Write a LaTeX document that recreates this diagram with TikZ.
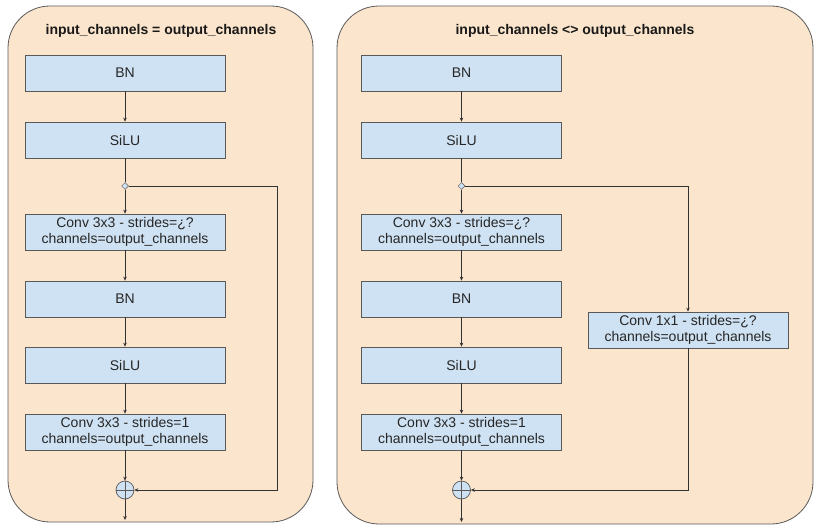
\documentclass[tikz,border=0pt]{standalone}
\usepackage{fontspec}
\setmainfont{Liberation Sans}
\usepackage{tikz}
\usetikzlibrary{arrows.meta, shapes.geometric, positioning}

\definecolor{panelpeach}{HTML}{FCE5CD}
\definecolor{blockblue}{HTML}{CFE2F3}
\definecolor{edgegray}{HTML}{595959}
\definecolor{linegray}{HTML}{333333}

\begin{document}
\begin{tikzpicture}[x=1pt, y=-1pt,
        panel/.style={draw=edgegray, fill=panelpeach, line width=0.8pt, rounded corners=42pt},
        title/.style={font=\fontsize{14}{16}\selectfont\bfseries, text=black!90},
        block/.style={rectangle, draw=edgegray, fill=blockblue, line width=0.7pt, minimum width=200pt, minimum height=36pt, inner sep=1pt, align=center, font=\fontsize{14}{16}\selectfont, text=black!85},
        split/.style={diamond, draw=edgegray, fill=blockblue, line width=0.5pt, minimum size=7pt, inner sep=0pt},
        sum/.style={circle, draw=edgegray, fill=blockblue, line width=0.7pt, minimum size=18pt, inner sep=0pt},
        flow/.style={draw=linegray, line width=0.7pt, -{Stealth[length=4pt, width=3.5pt]}}
    ]
        \useasboundingbox (0,0) rectangle (822,532);

        % Panels
        \draw[panel] (8,6) rectangle (313,522);
        \draw[panel] (337,6) rectangle (813,524);
        \node[title] (tl) at (161,31) {input\_channels = output\_channels};
        \node[title] (tr) at (575,31) {input\_channels <> output\_channels};

        % Left block
        \node[block] (bnLa) at (125,73) {BN};
        \node[block] (siluLa) at (125,140) {SiLU};
        \node[split] (jL) at (125,186) {};
        \node[block] (convLa) at (125,232) {Conv 3x3 - strides=¿?\\channels=output\_channels};
        \node[block] (bnLb) at (125,299) {BN};
        \node[block] (siluLb) at (125,365) {SiLU};
        \node[block] (convLb) at (125,432) {Conv 3x3 - strides=1\\channels=output\_channels};
        \node[sum] (sumL) at (125,490) {};
        \coordinate (outL) at (125,520);
        \coordinate (turnL) at (277,186);

        % Right block
        \node[block] (bnRa) at (461.5,73) {BN};
        \node[block] (siluRa) at (461.5,140) {SiLU};
        \node[split] (jR) at (461.5,186) {};
        \node[block] (convRa) at (461.5,232) {Conv 3x3 - strides=¿?\\channels=output\_channels};
        \node[block] (bnRb) at (461.5,299) {BN};
        \node[block] (siluRb) at (461.5,365) {SiLU};
        \node[block] (convRb) at (461.5,432) {Conv 3x3 - strides=1\\channels=output\_channels};
        \node[sum] (sumR) at (461.5,490) {};
        \node[block] (convRs) at (688,330) {Conv 1x1 - strides=¿?\\channels=output\_channels};
        \coordinate (outR) at (461.5,522);

        % Plus signs
        \draw[edgegray, line width=0.7pt] (sumL.north) -- (sumL.south) (sumL.west) -- (sumL.east);
        \draw[edgegray, line width=0.7pt] (sumR.north) -- (sumR.south) (sumR.west) -- (sumR.east);

        % Left connectors
        \draw[flow] (bnLa) -- (siluLa);
        \draw[draw=linegray, line width=0.7pt] (siluLa) -- (jL);
        \draw[flow] (jL) -- (convLa);
        \draw[flow] (convLa) -- (bnLb);
        \draw[flow] (bnLb) -- (siluLb);
        \draw[flow] (siluLb) -- (convLb);
        \draw[flow] (convLb) -- (sumL);
        \draw[flow] (sumL) -- (outL);
        \draw[flow] (jL) -- (turnL) |- (sumL);

        % Right connectors
        \draw[flow] (bnRa) -- (siluRa);
        \draw[draw=linegray, line width=0.7pt] (siluRa) -- (jR);
        \draw[flow] (jR) -- (convRa);
        \draw[flow] (convRa) -- (bnRb);
        \draw[flow] (bnRb) -- (siluRb);
        \draw[flow] (siluRb) -- (convRb);
        \draw[flow] (convRb) -- (sumR);
        \draw[flow] (sumR) -- (outR);
        \draw[flow] (jR) -| (convRs);
        \draw[flow] (convRs) |- (sumR);
    \end{tikzpicture}
\end{document}
